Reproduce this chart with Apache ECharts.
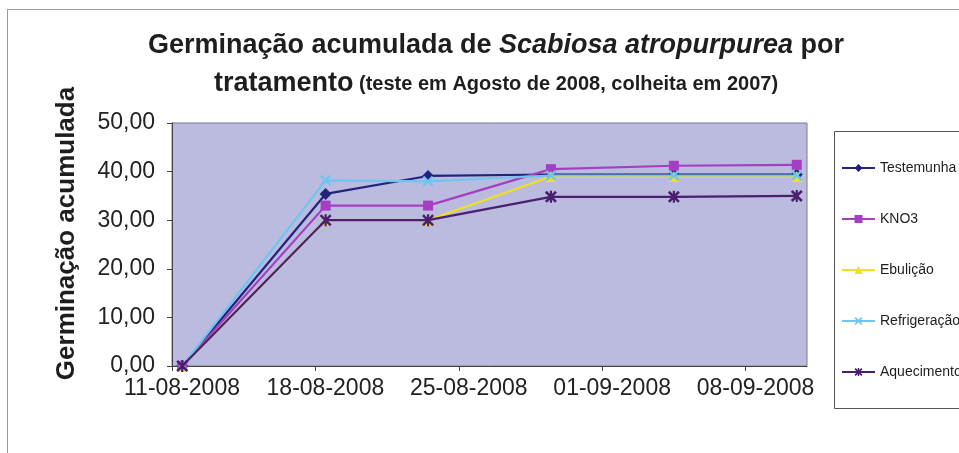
<!DOCTYPE html>
<html>
<head>
<meta charset="utf-8">
<style>
  html, body { margin: 0; padding: 0; background: #ffffff; }
  #chart { width: 959px; height: 453px; }
</style>
<script src="https://cdn.jsdelivr.net/npm/echarts@6/dist/echarts.min.js"></script>
</head>
<body>
<div id="chart"></div>
<script>
// ---- data ----
const startDate = '2008-08-11';
const dates = ['2008-08-11', '2008-08-18', '2008-08-23', '2008-08-29', '2008-09-04', '2008-09-10'];
const seriesNames = ['Testemunha', 'KNO3', 'Ebulição', 'Refrigeração', 'Aquecimento'];
const testemunha   = [0, 35.4, 39.1, 39.4, 39.4, 39.4];
const kno3         = [0, 33.0, 33.0, 40.5, 41.2, 41.4];
const ebulicao     = [0, 30.0, 30.0, 39.0, 39.0, 39.0];
const refrigeracao = [0, 38.2, 38.0, 39.2, 39.2, 39.2];
const aquecimento  = [0, 30.0, 30.0, 34.8, 34.8, 35.0];
const axisDays = 31;       // axis spans 11-08-2008 .. 11-09-2008
const tickStepDays = 7;
const yMax = 50;
const yStep = 10;

// ---- helpers ----
const DAY = 86400000;
const t0 = Date.parse(startDate + 'T00:00:00Z');
function dayOffset(d) { return (Date.parse(d + 'T00:00:00Z') - t0) / DAY + 0.5; } // centred in the day slot
function fmtDate(v) {
  const dt = new Date(t0 + Math.round(v) * DAY);
  const dd = String(dt.getUTCDate()).padStart(2, '0');
  const mm = String(dt.getUTCMonth() + 1).padStart(2, '0');
  return dd + '-' + mm + '-' + dt.getUTCFullYear();
}
function pairs(vals) { return dates.map((d, i) => [dayOffset(d), vals[i]]); }

const FONT = '"Liberation Sans", Arial, sans-serif';
const xPath = 'path://M0,1.5 L1.5,0 L5,3.5 L8.5,0 L10,1.5 L6.5,5 L10,8.5 L8.5,10 L5,6.5 L1.5,10 L0,8.5 L3.5,5 Z';
const starPath = 'path://M0,1.5 L1.5,0 L5,3.5 L8.5,0 L10,1.5 L6.5,5 L10,8.5 L8.5,10 L5,6.5 L1.5,10 L0,8.5 L3.5,5 Z M4.1,0 L5.9,0 L5.9,10 L4.1,10 Z';

const styles = [
  { color: '#23237c', symbol: 'diamond', size: 12 },
  { color: '#a43fc2', symbol: 'rect', size: 10 },
  { color: '#eee21c', symbol: 'triangle', size: 11 },
  { color: '#6ec6ef', symbol: xPath, size: 11 },
  { color: '#4a1f6e', symbol: starPath, size: 12 }
];
const valueSets = [testemunha, kno3, ebulicao, refrigeracao, aquecimento];

const chart = echarts.init(document.getElementById('chart'), null, { renderer: 'canvas' });
chart.setOption({
  backgroundColor: '#ffffff',
  animation: false,
  textStyle: { fontFamily: FONT },
  title: {
    left: 491,
    top: 22,
    textAlign: 'center',
    text: '{b|Germinação acumulada de }{bi|Scabiosa atropurpurea}{b| por}\n{b|tratamento}{s| (teste em Agosto de 2008, colheita em 2007)}',
    textStyle: {
      rich: {
        b:  { fontFamily: FONT, fontWeight: 'bold', fontSize: 27, color: '#1e1e1e', lineHeight: 38 },
        bi: { fontFamily: FONT, fontWeight: 'bold', fontStyle: 'italic', fontSize: 27, color: '#1e1e1e', lineHeight: 38 },
        s:  { fontFamily: FONT, fontWeight: 'bold', fontSize: 20, color: '#1e1e1e', lineHeight: 38 }
      }
    }
  },
  grid: { left: 172, right: 152, top: 123, bottom: 87, show: true, backgroundColor: '#bbbbe0', borderColor: '#7a7a8a', borderWidth: 1 },
  legend: {
    orient: 'vertical',
    left: 841,
    top: 161,
    padding: 0,
    itemWidth: 33,
    itemHeight: 10,
    itemGap: 37,
    textStyle: { fontFamily: FONT, fontSize: 14, color: '#1e1e1e' },
    data: seriesNames
  },
  xAxis: {
    type: 'value',
    min: 0,
    max: axisDays,
    interval: tickStepDays,
    splitLine: { show: false },
    axisLine: { show: true, onZero: false, lineStyle: { color: '#444', width: 1 } },
    axisTick: { show: true, length: 5, lineStyle: { color: '#444' } },
    axisLabel: {
      formatter: fmtDate,
      showMaxLabel: false,
      fontSize: 23,
      color: '#222',
      margin: 11,
      padding: [0, 0, 0, 20]
    }
  },
  yAxis: {
    type: 'value',
    min: 0,
    max: yMax,
    interval: yStep,
    name: 'Germinação acumulada',
    nameLocation: 'middle',
    nameGap: 92,
    nameTextStyle: { fontFamily: FONT, fontWeight: 'bold', fontSize: 26, color: '#1e1e1e', padding: [0, 0, 0, 22] },
    splitLine: { show: false },
    axisLine: { show: true, lineStyle: { color: '#444', width: 1 } },
    axisTick: { show: true, length: 5, lineStyle: { color: '#444' } },
    axisLabel: {
      formatter: v => v.toFixed(2).replace('.', ','),
      fontSize: 23,
      color: '#222',
      margin: 17
    }
  },
  series: seriesNames.map((name, i) => ({
    name: name,
    type: 'line',
    data: pairs(valueSets[i]),
    symbol: styles[i].symbol,
    symbolSize: styles[i].size,
    showAllSymbol: true,
    itemStyle: { color: styles[i].color },
    lineStyle: { color: styles[i].color, width: 2.2 },
    z: 2 + i
  })),
  graphic: [
    { type: 'line', shape: { x1: 7, y1: 9.5, x2: 959, y2: 9.5 }, style: { stroke: '#9a9a9a', lineWidth: 1 } },
    { type: 'line', shape: { x1: 7.5, y1: 9, x2: 7.5, y2: 453 }, style: { stroke: '#9a9a9a', lineWidth: 1 } },
    { type: 'rect', shape: { x: 834.5, y: 131.5, width: 200, height: 277 }, style: { fill: 'none', stroke: '#555', lineWidth: 1 }, z: -1 }
  ]
});
</script>
</body>
</html>
